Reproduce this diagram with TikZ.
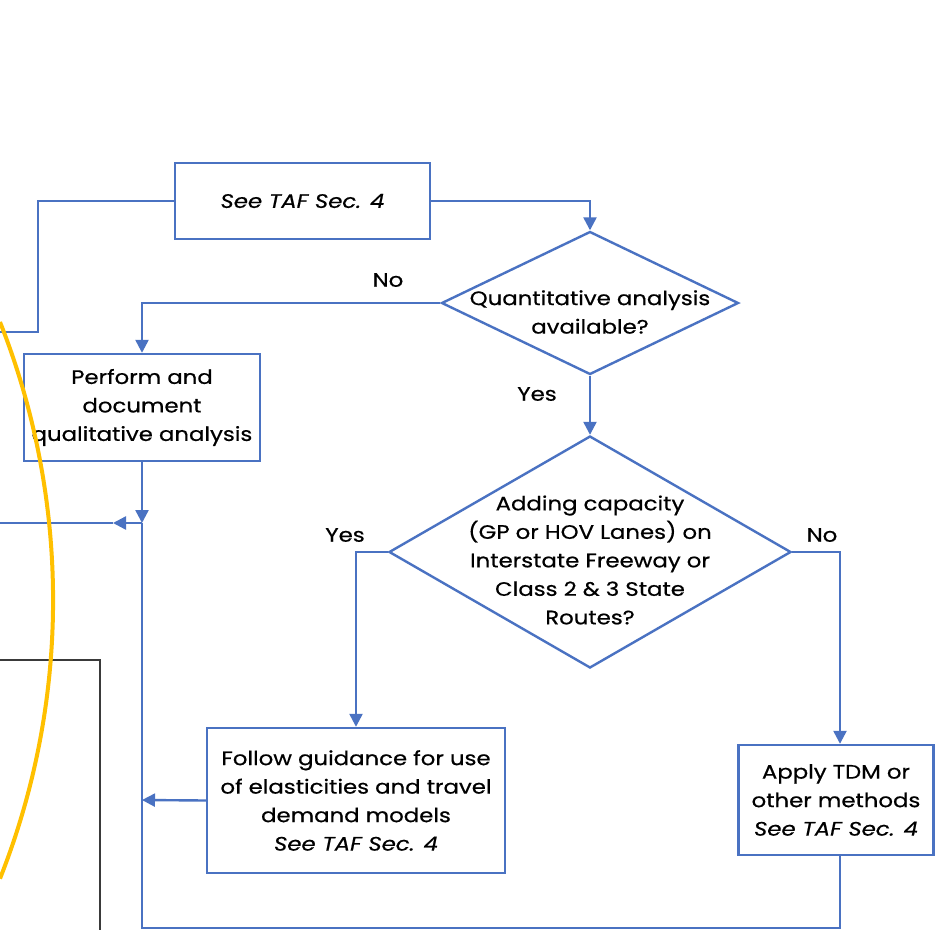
\documentclass[tikz,border=0pt]{standalone}
\usepackage{fontspec}
\setmainfont{Poppins}[FakeStretch=1.17,FakeBold=0.6]
\usetikzlibrary{shapes.geometric,arrows.meta}
\definecolor{flowblue}{HTML}{4A72C2}
\definecolor{hiyellow}{HTML}{FFC000}
\definecolor{darkframe}{HTML}{3A3A3A}
\tikzset{
  box/.style={draw=flowblue, line width=2.4pt, fill=white, align=center, inner sep=0pt, font=\fontsize{19.5}{28.5}\selectfont},
  decision/.style={draw=flowblue, line width=2.4pt, shape=diamond, inner sep=0pt},
  dtext/.style={align=center, inner sep=0pt, font=\fontsize{19.5}{28.5}\selectfont},
  lbl/.style={inner sep=0pt, font=\fontsize{19.5}{21}\selectfont},
  conn/.style={draw=flowblue, line width=2.4pt},
  arr/.style={conn, -{Triangle[length=13pt,width=13pt]}},
}
\begin{document}
\begin{tikzpicture}[x=1pt,y=-1pt]
\useasboundingbox (0,0) rectangle (935,930);
\fill[white] (0,0) rectangle (935,930);

% black frame at left bottom
\coordinate (f1) at (0,660);
\coordinate (f2) at (100,660);
\coordinate (f3) at (100,930);
\draw[darkframe, line width=2pt] (f1) -- (f2) -- (f3);

% nodes
\node[box, minimum width=255pt, minimum height=76pt] (taf) at (302.5,201) {\itshape See TAF Sec. 4};
\node[decision, minimum width=297pt, minimum height=143pt] (d1) at (590,303) {};
\node[dtext] (d1t) at (590,312) {Quantitative analysis\\available?};
\node[box, minimum width=236pt, minimum height=107pt] (perf) at (142,407.5) {Perform and\\document\\qualitative analysis};
\node[decision, minimum width=402pt, minimum height=232pt] (d2) at (590,552) {};
\node[dtext] (d2t) at (590,560) {Adding capacity\\(GP or HOV Lanes) on\\Interstate Freeway or\\Class 2 \& 3 State\\Routes?};
\node[box, minimum width=298pt, minimum height=145pt] (follow) at (356,800.5) {Follow guidance for use\\of elasticities and travel\\demand models\\\textit{See TAF Sec. 4}};
\node[box, minimum width=195pt, minimum height=110pt] (apply) at (836,800) {Apply TDM or\\other methods\\\textit{See TAF Sec. 4}};

% labels
\node[lbl] (no1) at (388,280) {No};
\node[lbl] (yes1) at (537,394) {Yes};
\node[lbl] (yes2) at (345,535) {Yes};
\node[lbl] (no2) at (822,535) {No};

% helper coordinates
\coordinate (c1) at (38,201);
\coordinate (c2) at (38,332);
\coordinate (c3) at (0,332);
\coordinate (jn) at (142,523);
\coordinate (lt) at (113,523);
\coordinate (le) at (0,523);
\coordinate (bl) at (142,928);
\coordinate (br) at (840,928);
\coordinate (fl) at (142,800);

% connectors
\draw[conn] (taf.west) -- (c1) -- (c2) -- (c3);
\draw[arr] (taf.east) -| (d1.north);
\draw[arr] (d1.west) -| (perf.north);
\draw[arr] (perf.south) -- (jn);
\draw[arr] (jn) -- (lt);
\draw[conn] (lt) -- (le);
\draw[conn] (jn) -- (bl) -- (br) -- (br |- apply.south);
\draw[arr] (d1.south) -- (d2.north);
\draw[arr] (d2.west) -| (follow.north);
\draw[arr] (d2.east) -| (br |- apply.north);
\draw[arr] (follow.west) -- (fl);

% yellow highlight arc
\draw[hiyellow, line width=4pt] (0,322) arc[start angle=-21.6, end angle=21.6, radius=756];
\end{tikzpicture}
\end{document}
